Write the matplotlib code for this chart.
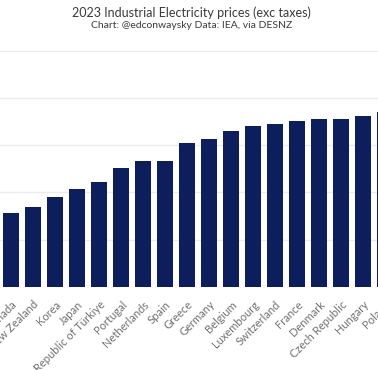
import matplotlib
matplotlib.use("Agg")
import matplotlib.pyplot as plt

countries = ["Canada", "New Zealand", "Korea", "Japan", "Republic of Türkiye",
             "Portugal", "Netherlands", "Spain", "Greece", "Germany", "Belgium",
             "Luxembourg", "Switzerland", "France", "Denmark", "Czech Republic",
             "Hungary", "Poland"]
prices = [7.84, 8.51, 9.47, 10.39, 11.14, 12.59, 13.30, 13.33, 15.24, 15.67,
          16.52, 17.05, 17.27, 17.59, 17.84, 17.87, 18.19, 18.6]
yticks = [0, 5, 10, 15, 20, 25]

W, H = 378, 370
fig = plt.figure(figsize=(W / 100, H / 100), dpi=100)
fig.patch.set_facecolor("white")

pitch = 22.0
ax_w_px = 460.0
bottom_px = 83.5
unit_px = 9.4
ytop = 26
ax = fig.add_axes([0, bottom_px / H, ax_w_px / W, ytop * unit_px / H])
ax.set_facecolor("none")

x = list(range(len(countries)))
ax.bar(x, prices, width=0.71, color="#0c1f5c", zorder=3)
ax.set_xlim(-0.5, -0.5 + ax_w_px / pitch)
ax.set_ylim(0, ytop)
ax.set_yticks(yticks)
ax.yaxis.grid(True, color="#ececec", linewidth=1.0, zorder=0)
ax.tick_params(axis="y", left=False, labelleft=False)
ax.tick_params(axis="x", length=0, pad=9)
for s in ax.spines.values():
    s.set_visible(False)
ax.set_xticks(x)
ax.set_xticklabels(countries, rotation=45, ha="right", va="top",
                   rotation_mode="anchor", fontsize=8, color="#707070",
                   family="Lato")

fig.text(0.506, 1 - 13 / H, "2023 Industrial Electricity prices (exc taxes)",
         ha="center", va="center", fontsize=9, color="#3a3a3a", family="Lato")
fig.text(0.506, 1 - 25.5 / H, "Chart: @edconwaysky Data: IEA, via DESNZ",
         ha="center", va="center", fontsize=7.5, color="#3a3a3a", family="Lato")

fig.savefig("out.png", dpi=100, facecolor="white")
